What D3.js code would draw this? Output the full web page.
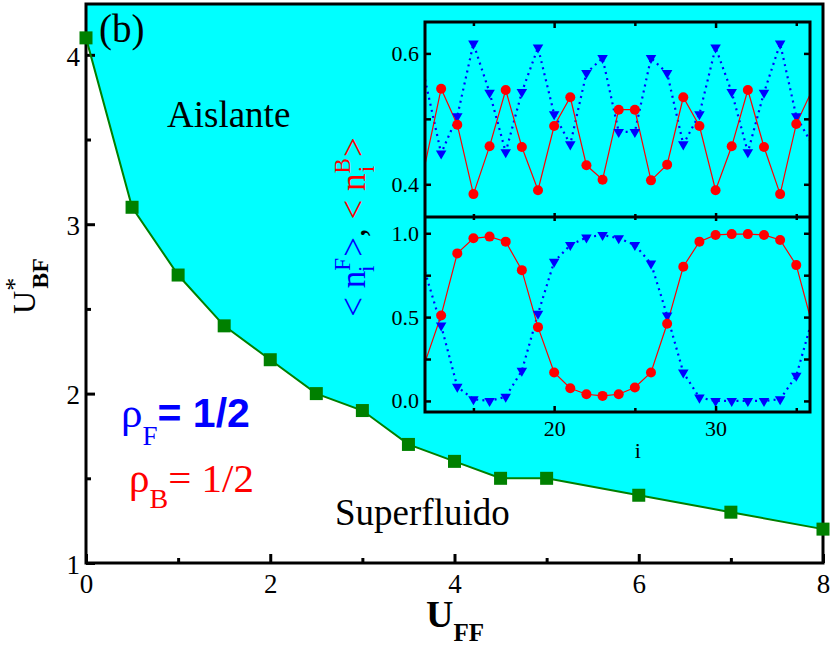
<!DOCTYPE html>
<html>
<head>
<meta charset="utf-8">
<script src="https://cdn.jsdelivr.net/npm/d3@7"></script>
<style>
  body { margin: 0; background: #fff; }
</style>
</head>
<body>
<div id="chart"></div>
<script>
// diagrama de fase principal
const uFF = [0, 0.5, 1, 1.5, 2, 2.5, 3, 3.5, 4, 4.5, 5, 6, 7, 8];
const uBF = [4.1, 3.1, 2.7, 2.4, 2.2, 2.0, 1.9, 1.7, 1.6, 1.5, 1.5, 1.4, 1.3, 1.2];
const xTicks = [0, 2, 4, 6, 8];
const xMinor = [1, 3, 5, 7];
const yTicks = [1, 2, 3, 4];
const yMinor = [1.5, 2.5, 3.5];

// inset: densidades por sitio
const sites = [12, 13, 14, 15, 16, 17, 18, 19, 20, 21, 22, 23, 24, 25, 26, 27, 28, 29, 30, 31, 32, 33, 34, 35, 36];
const nBtop = [0.43, 0.546, 0.491, 0.385, 0.458, 0.544, 0.457, 0.391, 0.489, 0.533, 0.429, 0.407, 0.514,
               0.514, 0.406, 0.430, 0.533, 0.489, 0.391, 0.458, 0.544, 0.457, 0.385, 0.492, 0.545];
const nFtop = [0.56, 0.447, 0.504, 0.615, 0.540, 0.449, 0.541, 0.609, 0.507, 0.461, 0.570, 0.593, 0.480,
               0.480, 0.593, 0.570, 0.461, 0.507, 0.609, 0.541, 0.449, 0.540, 0.615, 0.504, 0.46];
const nBbot = [0.23, 0.51, 0.88, 0.97, 0.98, 0.95, 0.78, 0.44, 0.17, 0.076, 0.04, 0.03, 0.04,
               0.08, 0.17, 0.46, 0.80, 0.95, 0.99, 0.995, 0.995, 0.99, 0.96, 0.81, 0.45];
const nFbot = [0.77, 0.45, 0.085, 0.01, 0.0, 0.025, 0.18, 0.52, 0.83, 0.93, 0.975, 0.99, 0.97,
               0.93, 0.82, 0.51, 0.17, 0.02, 0.0, 0.0, 0.0, 0.0, 0.01, 0.15, 0.49];
const insetXTicks = [20, 30];
const insetXMinor = [15, 25, 35];
const topYTicks = [0.4, 0.6];
const topYMinor = [0.5];
const botYTicks = [0.0, 0.5, 1.0];
const botYMinor = [0.25, 0.75];

const config = { width: 831, height: 648, left: 86, right: 823, top: 4, bottom: 563 };
const inset = { left: 425, right: 810, top: 22, mid: 217, bottom: 412 };
const SERIF = '"Liberation Serif", "DejaVu Serif", serif';
const SANS = '"Liberation Sans", Arial, sans-serif';

const svg = d3.select('#chart')
    .append('svg')
    .attr('width', config.width)
    .attr('height', config.height)
    .attr('font-family', SERIF);

const x = d3.scaleLinear().domain([0, 8]).range([config.left, config.right]);
const y = d3.scaleLinear().domain([1, 4.3]).range([config.bottom, config.top]);

// area do isolante (acima da curva)
const pts = uFF.map((d, i) => [d, uBF[i]]);
const areaPts = pts.concat([[8, 4.3], [0, 4.3]]);
svg.append('path')
    .attr('d', d3.line().x(d => x(d[0])).y(d => y(d[1]))(areaPts) + 'Z')
    .attr('fill', '#00ffff');

function styleAxis(g, size) {
    g.attr('font-family', SERIF);
    g.select('.domain').remove();
    g.selectAll('.tick line').attr('stroke', '#000').attr('stroke-width', 3);
    g.selectAll('.tick text').attr('fill', '#000').attr('font-family', SERIF).attr('font-size', size);
}

// eixos principais
svg.append('g').attr('transform', `translate(0,${config.bottom})`)
    .call(d3.axisBottom(x).tickValues(xTicks).tickSize(-9).tickPadding(11).tickFormat(d3.format('d')))
    .call(g => styleAxis(g, 27));
svg.append('g').attr('transform', `translate(0,${config.bottom})`)
    .call(d3.axisBottom(x).tickValues(xMinor).tickSize(-5).tickFormat(''))
    .call(g => styleAxis(g, 27));
svg.append('g').attr('transform', `translate(${config.left},0)`)
    .call(d3.axisLeft(y).tickValues(yTicks).tickSize(-9).tickPadding(6).tickFormat(d3.format('d')))
    .call(g => styleAxis(g, 27))
    .selectAll('.tick text').attr('dy', '0.38em');
svg.append('g').attr('transform', `translate(${config.left},0)`)
    .call(d3.axisLeft(y).tickValues(yMinor).tickSize(-5).tickFormat(''))
    .call(g => styleAxis(g, 27));

svg.append('rect')
    .attr('x', config.left).attr('y', config.top)
    .attr('width', config.right - config.left).attr('height', config.bottom - config.top)
    .attr('fill', 'none').attr('stroke', '#000').attr('stroke-width', 3);

// textos do diagrama
svg.append('text').attr('x', 99).attr('y', 42).attr('font-size', 39).text('(b)');
svg.append('text').attr('x', 167).attr('y', 127).attr('font-size', 37).text('Aislante');
svg.append('text').attr('x', 335).attr('y', 525).attr('font-size', 37).text('Superfluido');

const rhoF = svg.append('text').attr('x', 121).attr('y', 427)
    .attr('fill', '#0000ff').attr('font-size', 43);
rhoF.append('tspan').text('ρ');
rhoF.append('tspan').attr('dy', 18).attr('font-size', 27).text('F');
rhoF.append('tspan').attr('dy', -18).attr('font-family', SANS).attr('font-weight', 'bold')
    .attr('font-size', 41).text('= 1/2');

const rhoB = svg.append('text').attr('x', 129).attr('y', 492)
    .attr('fill', '#ff0000').attr('font-size', 41);
rhoB.append('tspan').text('ρ');
rhoB.append('tspan').attr('dy', 16).attr('font-size', 28).text('B');
rhoB.append('tspan').attr('dy', -16).text('= 1/2');

// rotulos dos eixos
const yl = svg.append('text')
    .attr('transform', 'translate(35,286) rotate(-90)')
    .attr('text-anchor', 'middle').attr('font-size', 32);
yl.append('tspan').text('U');
yl.append('tspan').attr('dy', -12).attr('font-size', 26).text('*');
yl.append('tspan').attr('dx', -11).attr('dy', 25).attr('font-size', 24).attr('font-weight', 'bold').text('BF');

const xl = svg.append('text').attr('x', 426).attr('y', 627)
    .attr('font-size', 38).attr('font-weight', 'bold');
xl.append('tspan').text('U');
xl.append('tspan').attr('dy', 14).attr('font-size', 25).text('FF');

// curva de transicao
svg.append('path')
    .attr('d', d3.line().x(d => x(d[0])).y(d => y(d[1]))(pts))
    .attr('fill', 'none').attr('stroke', '#008000').attr('stroke-width', 2);
svg.selectAll('rect.sq')
    .data(pts)
    .enter()
    .append('rect')
    .attr('class', 'sq')
    .attr('x', d => x(d[0]) - 6.5)
    .attr('y', d => y(d[1]) - 6.5)
    .attr('width', 13).attr('height', 13)
    .attr('fill', '#008000');

// ---------------- inset ----------------
const ix = d3.scaleLinear().domain([12, 35.85]).range([inset.left, inset.right]);
const yTop = d3.scaleLinear().domain([0.35, 0.648]).range([inset.mid, inset.top]);
const yBot = d3.scaleLinear().domain([-0.066, 1.097]).range([inset.bottom, inset.mid]);

svg.append('rect')
    .attr('x', inset.left).attr('y', inset.top)
    .attr('width', inset.right - inset.left).attr('height', inset.bottom - inset.top)
    .attr('fill', '#00ffff');

const defs = svg.append('defs');
defs.append('clipPath').attr('id', 'clipTop').append('rect')
    .attr('x', inset.left).attr('y', inset.top)
    .attr('width', inset.right - inset.left).attr('height', inset.mid - inset.top);
defs.append('clipPath').attr('id', 'clipBot').append('rect')
    .attr('x', inset.left).attr('y', inset.mid)
    .attr('width', inset.right - inset.left).attr('height', inset.bottom - inset.mid);

function drawPanel(yScale, boson, fermion, clip) {
    let g = svg.append('g').attr('clip-path', `url(#${clip})`);
    let bos = sites.map((s, i) => [s, boson[i]]);
    let fer = sites.map((s, i) => [s, fermion[i]]);
    let line = d3.line().x(d => ix(d[0])).y(d => yScale(d[1]));
    let inside = d => ix(d[0]) > inset.left + 3 && ix(d[0]) < inset.right - 3;

    g.append('path').attr('d', line(fer))
        .attr('fill', 'none').attr('stroke', '#0000ff').attr('stroke-width', 2.2)
        .attr('stroke-dasharray', '2,4.2');
    g.append('path').attr('d', line(bos))
        .attr('fill', 'none').attr('stroke', '#ff0000').attr('stroke-width', 1.2);

    g.selectAll('path.tri')
        .data(fer.filter(inside))
        .enter()
        .append('path')
        .attr('class', 'tri')
        .attr('d', d3.symbol(d3.symbolTriangle, 48))
        .attr('transform', d => `translate(${ix(d[0])},${yScale(d[1])}) rotate(180)`)
        .attr('fill', '#0000ff');
    g.selectAll('circle')
        .data(bos.filter(inside))
        .enter()
        .append('circle')
        .attr('cx', d => ix(d[0]))
        .attr('cy', d => yScale(d[1]))
        .attr('r', 5)
        .attr('fill', '#ff0000');
}
drawPanel(yTop, nBtop, nFtop, 'clipTop');
drawPanel(yBot, nBbot, nFbot, 'clipBot');

function insetAxis(axis, transform, size) {
    svg.append('g').attr('transform', transform).call(axis).call(g => {
        styleAxis(g, size);
        g.selectAll('.tick line').attr('stroke-width', 2.5);
    });
}
// eixos y do inset
insetAxis(d3.axisLeft(yTop).tickValues(topYTicks).tickSize(-6).tickPadding(6).tickFormat(d3.format('.1f')),
    `translate(${inset.left},0)`, 22);
insetAxis(d3.axisLeft(yTop).tickValues(topYMinor).tickSize(-6).tickFormat(''), `translate(${inset.left},0)`, 22);
insetAxis(d3.axisRight(yTop).tickValues(topYTicks.concat(topYMinor)).tickSize(-6).tickFormat(''),
    `translate(${inset.right},0)`, 22);
insetAxis(d3.axisLeft(yBot).tickValues(botYTicks).tickSize(-6).tickPadding(6).tickFormat(d3.format('.1f')),
    `translate(${inset.left},0)`, 22);
insetAxis(d3.axisLeft(yBot).tickValues(botYMinor).tickSize(-6).tickFormat(''), `translate(${inset.left},0)`, 22);
insetAxis(d3.axisRight(yBot).tickValues(botYTicks.concat(botYMinor)).tickSize(-6).tickFormat(''),
    `translate(${inset.right},0)`, 22);

// eixos x do inset
insetAxis(d3.axisBottom(ix).tickValues(insetXTicks).tickSize(-6).tickPadding(8).tickFormat(d3.format('d')),
    `translate(0,${inset.bottom})`, 22);
insetAxis(d3.axisBottom(ix).tickValues(insetXMinor).tickSize(-4).tickFormat(''), `translate(0,${inset.bottom})`, 22);
insetAxis(d3.axisTop(ix).tickValues(insetXTicks).tickSize(-6).tickFormat(''), `translate(0,${inset.top})`, 22);
insetAxis(d3.axisTop(ix).tickValues(insetXMinor).tickSize(-4).tickFormat(''), `translate(0,${inset.top})`, 22);
insetAxis(d3.axisTop(ix).tickValues(insetXTicks).tickSize(-4).tickFormat(''), `translate(0,${inset.mid})`, 22);
insetAxis(d3.axisBottom(ix).tickValues(insetXTicks).tickSize(-4).tickFormat(''), `translate(0,${inset.mid})`, 22);
insetAxis(d3.axisTop(ix).tickValues(insetXMinor).tickSize(-3).tickFormat(''), `translate(0,${inset.mid})`, 22);
insetAxis(d3.axisBottom(ix).tickValues(insetXMinor).tickSize(-3).tickFormat(''), `translate(0,${inset.mid})`, 22);

svg.append('rect')
    .attr('x', inset.left).attr('y', inset.top)
    .attr('width', inset.right - inset.left).attr('height', inset.bottom - inset.top)
    .attr('fill', 'none').attr('stroke', '#000').attr('stroke-width', 3);
svg.append('line')
    .attr('x1', inset.left).attr('x2', inset.right)
    .attr('y1', inset.mid).attr('y2', inset.mid)
    .attr('stroke', '#000').attr('stroke-width', 3);

svg.append('text').attr('x', (ix(20) + ix(30)) / 2 + 3).attr('y', 458)
    .attr('text-anchor', 'middle').attr('font-size', 22).text('i');

// rotulo y do inset
const il = svg.append('text')
    .attr('transform', 'translate(365,227) rotate(-90)')
    .attr('text-anchor', 'middle').attr('font-size', 35);
function nLabel(color, sup) {
    il.append('tspan').attr('fill', color).text('< n');
    il.append('tspan').attr('fill', color).attr('dy', -15).attr('font-size', 23).text(sup);
    il.append('tspan').attr('fill', color).attr('dx', -14).attr('dy', 24).attr('font-size', 23).text('i');
    il.append('tspan').attr('fill', color).attr('dy', -9).text(' >');
}
nLabel('#0000ff', 'F');
il.append('tspan').attr('fill', '#000').text(', ');
nLabel('#ff0000', 'B');
</script>
</body>
</html>
